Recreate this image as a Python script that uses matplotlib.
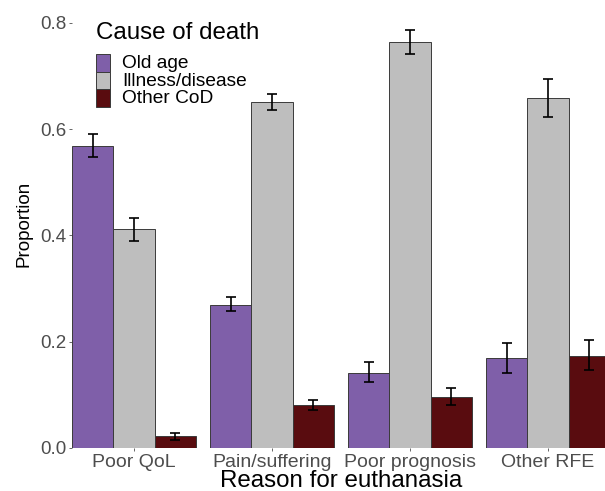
import numpy as np
from matplotlib import pyplot as plt
from matplotlib.patches import Rectangle

plt.rcParams['font.family'] = ['Liberation Sans', 'DejaVu Sans']

reasons = ["Poor QoL", "Pain/suffering", "Poor prognosis", "Other RFE"]
causes = ["Old age", "Illness/disease", "Other CoD"]
colors = ["#7F5FA9", "#BEBEBE", "#590C0F"]

old_age = [0.569, 0.270, 0.142, 0.169]
old_age_lo = [0.548, 0.257, 0.124, 0.141]
old_age_hi = [0.590, 0.285, 0.162, 0.198]

illness = [0.412, 0.651, 0.764, 0.658]
illness_lo = [0.390, 0.636, 0.741, 0.622]
illness_hi = [0.432, 0.666, 0.786, 0.694]

other = [0.0226, 0.080, 0.096, 0.174]
other_lo = [0.015, 0.072, 0.080, 0.146]
other_hi = [0.029, 0.090, 0.112, 0.204]

values = [old_age, illness, other]
lows = [old_age_lo, illness_lo, other_lo]
highs = [old_age_hi, illness_hi, other_hi]

W, H = 605, 491
fig = plt.figure(figsize=(W / 100, H / 100), dpi=100)
ax = fig.add_axes([72 / W, 43 / H, 538 / W, 448 / H])

x = np.arange(1, len(reasons) + 1)
w = 0.3
for i in range(3):
    pos = x + (i - 1) * w
    v = np.array(values[i])
    err = [v - np.array(lows[i]), np.array(highs[i]) - v]
    ax.bar(pos, v, width=w, color=colors[i], edgecolor="#3a3a3a", linewidth=0.7, zorder=2)
    ax.errorbar(pos, v, yerr=err, fmt="none", ecolor="black", elinewidth=1.2,
                capsize=3.3, capthick=1.2, zorder=3)

ax.set_xlim(0.55, 4.45)
ax.set_ylim(0, 0.843)
ax.set_xticks(x)
ax.set_xticklabels(reasons)
ax.set_yticks([0.0, 0.2, 0.4, 0.6, 0.8])
ax.set_yticklabels(["0.0", "0.2", "0.4", "0.6", "0.8"])
ax.tick_params(axis="both", colors="#4D4D4D", labelsize=14, length=2.5, width=0.6, pad=1.5)
ax.tick_params(axis="y", labelsize=13.5)
for s in ax.spines.values():
    s.set_visible(False)

ax.set_ylabel("Proportion", fontsize=13.5)
ax.yaxis.set_label_coords(-0.074, 0.5)
ax.set_xlabel("Reason for euthanasia", fontsize=17.4, va="baseline")
ax.xaxis.set_label_coords(0.5, -39 / 448)

# legend, drawn by hand so the rows can sit as tight as in the reference
fig.text(96 / W, 1 - 39 / H, "Cause of death", fontsize=17.4, va="baseline", ha="left")
row_h = 17.7
for i, (c, lab) in enumerate(zip(colors, causes)):
    top = 54 + i * row_h
    fig.patches.append(Rectangle((96 / W, 1 - (top + row_h) / H), 14 / W, row_h / H,
                                 transform=fig.transFigure, facecolor=c,
                                 edgecolor="#3a3a3a", linewidth=0.7))
    fig.text(122 / W, 1 - (top + row_h / 2 + 0.5) / H, lab, fontsize=13.8,
             va="center", ha="left")

fig.savefig("out.png", dpi=100)
